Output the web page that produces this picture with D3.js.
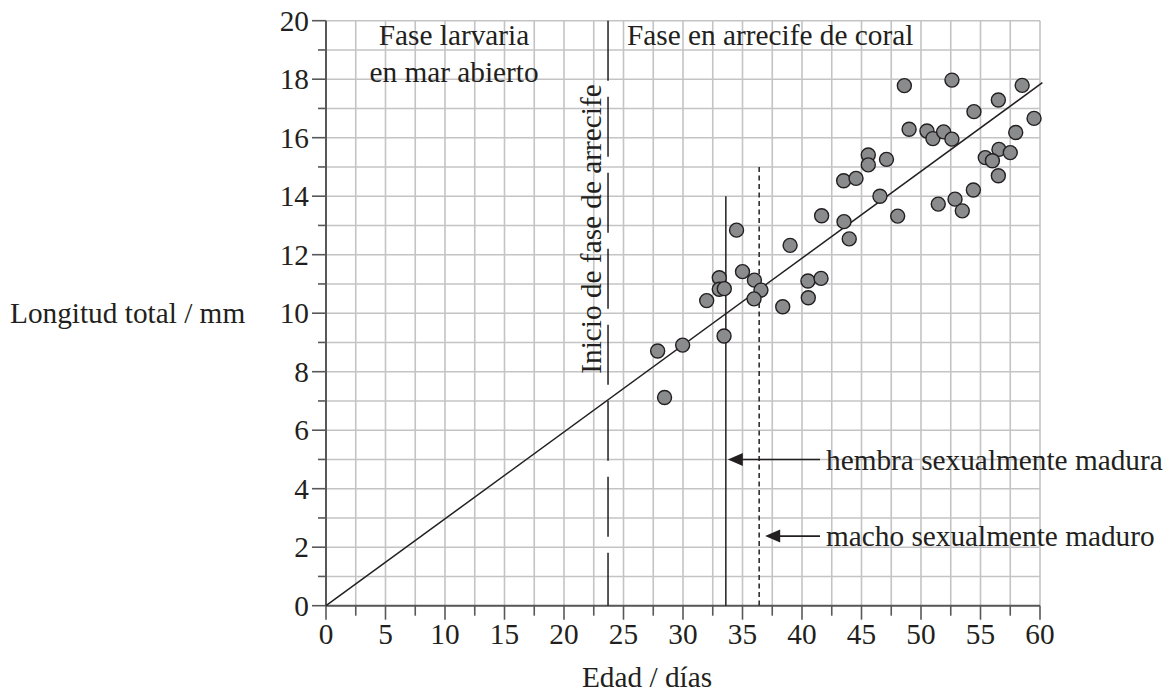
<!DOCTYPE html>
<html>
<head>
<meta charset="utf-8">
<script src="https://cdn.jsdelivr.net/npm/d3@7"></script>
<style>
  body { margin: 0; background: #fff; }
  text { font-family: "Liberation Serif", "Times New Roman", serif; fill: #231f20; }
</style>
</head>
<body>
<div id="chart-area"></div>
<script>
// edad (dias) y longitud total (mm) de cada pez
var ages = [48.6, 52.6, 58.5, 56.5, 54.45, 59.5, 49.0, 50.5, 51.0, 51.9, 52.6, 57.96,
    45.57, 45.57, 47.1, 56.55, 57.5, 55.4, 56.0, 56.5, 43.5, 44.54, 46.55, 54.4,
    52.86, 51.45, 53.47, 48.04, 43.53, 43.97, 41.65, 34.5, 39.0, 35.0, 33.05, 36.0,
    40.5, 41.6, 33.05, 33.47, 36.55, 31.99, 35.97, 40.53, 38.38, 33.45, 29.97, 27.87, 28.45];
var lengths = [17.78, 17.97, 17.79, 17.29, 16.89, 16.66, 16.29, 16.23, 15.97, 16.2, 15.95, 16.18,
    15.41, 15.07, 15.26, 15.6, 15.49, 15.32, 15.21, 14.7, 14.53, 14.61, 14.0, 14.21,
    13.9, 13.73, 13.5, 13.32, 13.13, 12.54, 13.33, 12.84, 12.32, 11.42, 11.21, 11.13,
    11.1, 11.19, 10.82, 10.84, 10.79, 10.43, 10.49, 10.53, 10.22, 9.22, 8.91, 8.71, 7.12];

// recta de ajuste
var fitX = [0, 60.2];
var fitY = [0, 17.88];

var xTicks = [0, 5, 10, 15, 20, 25, 30, 35, 40, 45, 50, 55, 60];
var yTicks = [0, 2, 4, 6, 8, 10, 12, 14, 16, 18, 20];

var reefStart = 23.7;      // inicio de fase de arrecife
var femaleMature = 33.6;   // hembra sexualmente madura
var maleMature = 36.4;     // macho sexualmente maduro
var femaleTop = 14, maleTop = 15;

var W = 1169, H = 693, fs = 29.3;
var svg = d3.select("#chart-area").append("svg")
    .attr("width", W).attr("height", H);

var x = d3.scaleLinear().domain([0, 60]).range([326, 1040]);
var y = d3.scaleLinear().domain([0, 20]).range([605.7, 20.7]);

var gridCol = "#c4c4c6", axisCol = "#58585a", ink = "#231f20";

// grid
var g = svg.append("g");
g.selectAll(".vg").data(d3.range(0, 60.01, 2.5)).enter().append("line")
    .attr("x1", function (d) { return x(d); }).attr("x2", function (d) { return x(d); })
    .attr("y1", y(0)).attr("y2", y(20))
    .attr("stroke", gridCol).attr("stroke-width", 1.6);
g.selectAll(".hg").data(d3.range(0, 20.01, 1)).enter().append("line")
    .attr("x1", x(0)).attr("x2", x(60))
    .attr("y1", function (d) { return y(d); }).attr("y2", function (d) { return y(d); })
    .attr("stroke", gridCol).attr("stroke-width", 1.6);

// axes
var xAxis = svg.append("g").attr("transform", "translate(0," + y(0) + ")");
xAxis.append("line").attr("x1", x(0)).attr("x2", x(60)).attr("stroke", axisCol).attr("stroke-width", 2);
xAxis.selectAll(".xt").data(d3.range(0, 60.01, 2.5)).enter().append("line")
    .attr("x1", function (d) { return x(d); }).attr("x2", function (d) { return x(d); })
    .attr("y1", 0).attr("y2", function (d) { return d % 5 === 0 ? 14 : 10; })
    .attr("stroke", axisCol).attr("stroke-width", 1.6);
xAxis.selectAll(".xl").data(xTicks).enter().append("text")
    .attr("x", function (d) { return x(d); }).attr("y", 38)
    .attr("text-anchor", "middle").attr("font-size", fs)
    .text(function (d) { return d; });

var yAxis = svg.append("g").attr("transform", "translate(" + x(0) + ",0)");
yAxis.append("line").attr("y1", y(0)).attr("y2", y(20)).attr("stroke", axisCol).attr("stroke-width", 2);
yAxis.selectAll(".yt").data(d3.range(0, 20.01, 1)).enter().append("line")
    .attr("y1", function (d) { return y(d); }).attr("y2", function (d) { return y(d); })
    .attr("x1", function (d) { return d % 2 === 0 ? -14 : -8; }).attr("x2", 0)
    .attr("stroke", axisCol).attr("stroke-width", 1.6);
yAxis.selectAll(".yl").data(yTicks).enter().append("text")
    .attr("x", -17).attr("y", function (d) { return y(d); })
    .attr("dy", "0.35em").attr("text-anchor", "end").attr("font-size", fs)
    .text(function (d) { return d; });

// axis titles
svg.append("text").attr("x", 647).attr("y", 687)
    .attr("text-anchor", "middle").attr("font-size", fs).text("Edad / días");
svg.append("text").attr("x", 10).attr("y", y(10)).attr("dy", "0.35em")
    .attr("font-size", fs).text("Longitud total / mm");

// phase labels
svg.append("text").attr("x", 454).attr("y", 45).attr("text-anchor", "middle")
    .attr("font-size", fs).text("Fase larvaria");
svg.append("text").attr("x", 454).attr("y", 82).attr("text-anchor", "middle")
    .attr("font-size", fs).text("en mar abierto");
svg.append("text").attr("x", 627).attr("y", 45)
    .attr("font-size", fs).text("Fase en arrecife de coral");
svg.append("text").attr("transform", "translate(601,229) rotate(-90)")
    .attr("text-anchor", "middle").attr("font-size", fs).text("Inicio de fase de arrecife");

// reef start (long dashes)
svg.append("line").attr("x1", x(reefStart)).attr("x2", x(reefStart))
    .attr("y1", y(20)).attr("y2", y(0))
    .attr("stroke", ink).attr("stroke-width", 1.5).attr("stroke-dasharray", "60,16");

// regression line
svg.append("line").attr("x1", x(fitX[0])).attr("y1", y(fitY[0]))
    .attr("x2", x(fitX[1])).attr("y2", y(fitY[1]))
    .attr("stroke", ink).attr("stroke-width", 1.5);

// maturity lines
svg.append("line").attr("x1", x(femaleMature)).attr("x2", x(femaleMature))
    .attr("y1", y(femaleTop)).attr("y2", y(0))
    .attr("stroke", ink).attr("stroke-width", 1.5);
svg.append("line").attr("x1", x(maleMature)).attr("x2", x(maleMature))
    .attr("y1", y(maleTop)).attr("y2", y(0))
    .attr("stroke", ink).attr("stroke-width", 1.5).attr("stroke-dasharray", "5,3.5");

// points
svg.selectAll("circle").data(d3.zip(ages, lengths)).enter().append("circle")
    .attr("cx", function (d) { return x(d[0]); })
    .attr("cy", function (d) { return y(d[1]); })
    .attr("r", 7)
    .attr("fill", "#8a8b8d").attr("stroke", ink).attr("stroke-width", 1.4);

// arrows + notes
function arrow(tipX, yv, label) {
    var yy = y(yv);
    svg.append("line").attr("x1", tipX + 12).attr("x2", 820).attr("y1", yy).attr("y2", yy)
        .attr("stroke", ink).attr("stroke-width", 1.6);
    svg.append("path")
        .attr("d", "M" + tipX + "," + yy + "L" + (tipX + 15) + "," + (yy - 6.5) + "L" + (tipX + 15) + "," + (yy + 6.5) + "Z")
        .attr("fill", ink);
    svg.append("text").attr("x", 826).attr("y", yy).attr("dy", "0.35em")
        .attr("font-size", fs).text(label);
}
arrow(x(femaleMature) + 2, 5, "hembra sexualmente madura");
arrow(x(maleMature) + 6, 2.38, "macho sexualmente maduro");
</script>
</body>
</html>
